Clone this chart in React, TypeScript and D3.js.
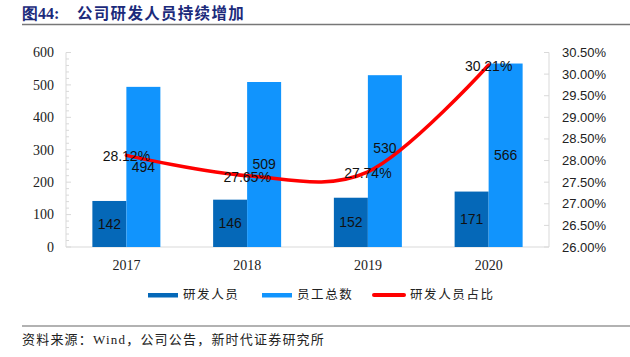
import React from "react";
import * as d3 from "d3";

const years = ["2017", "2018", "2019", "2020"];
const rdStaff = [142, 146, 152, 171];
const totalStaff = [494, 509, 530, 566];
const rdRatio = [28.12, 27.65, 27.74, 30.21];
const leftTicks = [0, 100, 200, 300, 400, 500, 600];
const rightTicks = [26, 26.5, 27, 27.5, 28, 28.5, 29, 29.5, 30, 30.5];
const seriesNames = ["研发人员", "员工总数", "研发人员占比"];

const DARK = "#0568B8";
const LIGHT = "#1194FD";
const RED = "#FF0000";

export default function App() {
  const W = 630, H = 357;
  const left = 66, right = 549, top = 52.5, bottom = 247;
  const x = d3.scaleBand<string>().domain(years).range([left, right]).padding(0);
  const yL = d3.scaleLinear().domain([0, 600]).range([bottom, top]);
  const yR = d3.scaleLinear().domain([26, 30.5]).range([bottom, top]);
  const bw = 34;
  const cx = (y: string) => (x(y) as number) + x.bandwidth() / 2;
  const minor = d3.range(0, 601, 20);
  const line = d3
    .line<number>()
    .x((_, i) => cx(years[i]))
    .y((d) => yR(d))
    .curve(d3.curveCardinal.tension(0));
  const sans = "'Liberation Sans', Arial, sans-serif";
  const serif = "'Liberation Serif', 'Times New Roman', serif";
  const cjk = "'Noto Sans CJK SC', sans-serif";
  const labelOffsets = [0, 0, -13, 0];

  return (
    <div style={{ position: "absolute", left: 0, top: 0 }}>
      <svg width={W} height={H} style={{ display: "block" }}>
        <rect width={W} height={H} fill="#fff" />
        {/* title */}
        <text x={22} y={19} fontFamily={serif} fontWeight="bold" fontSize={16} fill="#1B2A7B">
          图44:
        </text>
        <text x={77} y={19} fontFamily={cjk} fontWeight="bold" fontSize={15.5} letterSpacing={1.3} fill="#1B2A7B">
          公司研发人员持续增加
        </text>
        <line x1={22} x2={630} y1={24.5} y2={24.5} stroke="#777" strokeWidth={1.5} />

        {/* axes */}
        <line x1={left} x2={left} y1={top} y2={bottom} stroke="#d9d9d9" />
        {minor.map((v) => (
          <line key={"m" + v} x1={left} x2={left + (v % 100 === 0 ? 5 : 3)} y1={yL(v)} y2={yL(v)} stroke="#d9d9d9" />
        ))}
        {leftTicks.map((v) => (
          <text key={"l" + v} x={54} y={yL(v)} dy="0.35em" textAnchor="end" fontFamily={serif} fontSize={14} fill="#222">
            {v}
          </text>
        ))}
        <line x1={right} x2={right} y1={top} y2={bottom} stroke="#d9d9d9" />
        {rightTicks.map((v) => (
          <g key={"r" + v}>
            <line x1={right - 5} x2={right} y1={yR(v)} y2={yR(v)} stroke="#d9d9d9" />
            <text x={562} y={yR(v)} dy="0.35em" fontFamily={sans} fontSize={13} fill="#222">
              {v.toFixed(2)}%
            </text>
          </g>
        ))}
        <line x1={left} x2={right} y1={bottom} y2={bottom} stroke="#d9d9d9" strokeWidth={1.2} />
        {years.map((y) => (
          <text key={"x" + y} x={cx(y)} y={270} textAnchor="middle" fontFamily={serif} fontSize={14} fill="#222">
            {y}
          </text>
        ))}

        {/* bars */}
        {years.map((y, i) => (
          <g key={"b" + y}>
            <rect x={cx(y) - bw} y={yL(rdStaff[i])} width={bw} height={bottom - yL(rdStaff[i])} fill={DARK} />
            <rect x={cx(y)} y={yL(totalStaff[i])} width={bw} height={bottom - yL(totalStaff[i])} fill={LIGHT} />
          </g>
        ))}

        {/* line */}
        <path d={line(rdRatio) || ""} fill="none" stroke={RED} strokeWidth={3.5} strokeLinecap="round" />

        {/* labels */}
        {years.map((y, i) => (
          <g key={"t" + y} fontFamily={sans} fontSize={14} fill="#111">
            <text x={cx(y) - bw / 2} y={(yL(rdStaff[i]) + bottom) / 2} dy="0.35em" textAnchor="middle">
              {rdStaff[i]}
            </text>
            <text x={cx(y) + bw / 2} y={(yL(totalStaff[i]) + bottom) / 2 + labelOffsets[i]} dy="0.35em" textAnchor="middle">
              {totalStaff[i]}
            </text>
            <text x={cx(y)} y={yR(rdRatio[i]) + 1} dy="0.35em" textAnchor="middle">
              {rdRatio[i].toFixed(2)}%
            </text>
          </g>
        ))}

        {/* legend */}
        <rect x={148} y={293} width={30} height={4.5} fill={DARK} />
        <text x={183} y={295} dy="0.35em" fontFamily={cjk} fontSize={12.5} letterSpacing={1.6} fill="#222">
          {seriesNames[0]}
        </text>
        <rect x={262} y={293} width={30} height={4.5} fill={LIGHT} />
        <text x={297} y={295} dy="0.35em" fontFamily={cjk} fontSize={12.5} letterSpacing={1.6} fill="#222">
          {seriesNames[1]}
        </text>
        <line x1={374} x2={404} y1={295} y2={295} stroke={RED} strokeWidth={4} strokeLinecap="round" />
        <text x={410} y={295} dy="0.35em" fontFamily={cjk} fontSize={12.5} letterSpacing={1.6} fill="#222">
          {seriesNames[2]}
        </text>

        {/* footer */}
        <line x1={22} x2={630} y1={326} y2={326} stroke="#999" strokeWidth={1.5} />
        <text x={22} y={344} fontFamily={cjk} fontSize={13} letterSpacing={1.2} fill="#222">
          资料来源：<tspan fontFamily={serif}>Wind</tspan>，公司公告，新时代证券研究所
        </text>
      </svg>
    </div>
  );
}
